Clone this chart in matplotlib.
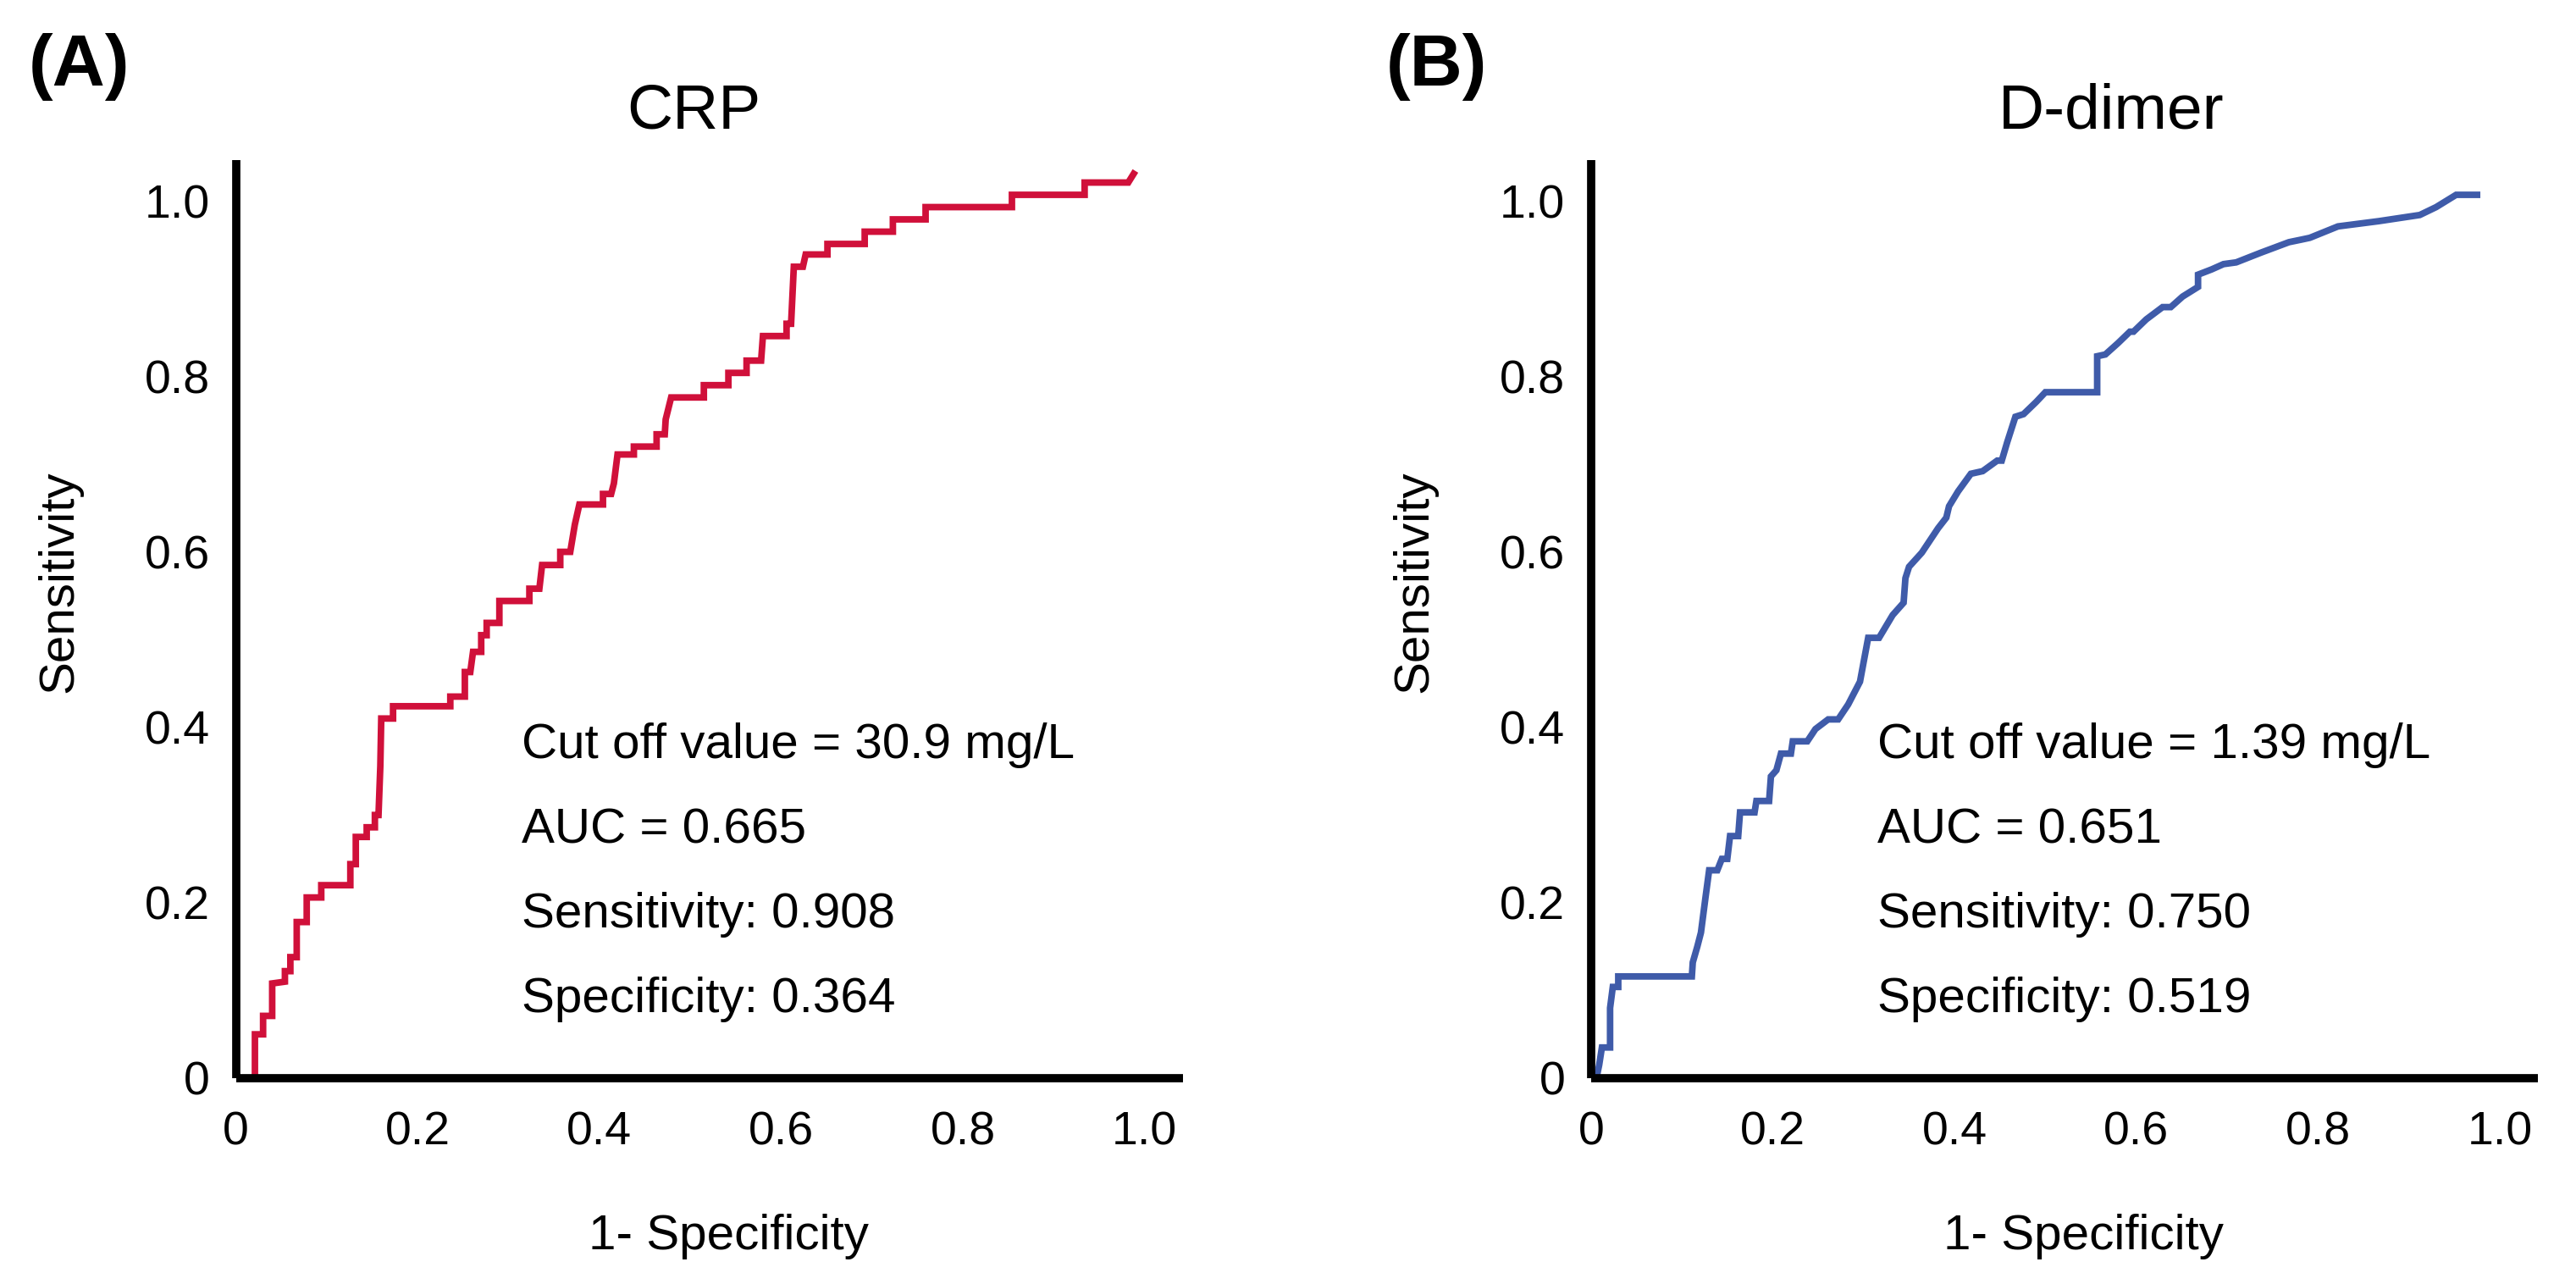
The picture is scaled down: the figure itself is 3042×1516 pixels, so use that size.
import matplotlib
matplotlib.use("Agg")
import matplotlib.pyplot as plt

plt.rcParams['font.family'] = ['Liberation Sans', 'DejaVu Sans']

# ROC curve for CRP (1 - specificity, sensitivity)
crp_fpr = [0.021, 0.021, 0.030, 0.030, 0.040, 0.040, 0.054, 0.054, 0.060, 0.060,
           0.067, 0.067, 0.078, 0.078, 0.094, 0.094, 0.126, 0.126, 0.132, 0.132,
           0.144, 0.144, 0.153, 0.153, 0.157, 0.159, 0.160, 0.173, 0.173, 0.236,
           0.236, 0.252, 0.252, 0.258, 0.261, 0.270, 0.270, 0.276, 0.276, 0.290,
           0.290, 0.323, 0.323, 0.334, 0.337, 0.357, 0.357, 0.368, 0.373, 0.378,
           0.404, 0.404, 0.413, 0.416, 0.420, 0.438, 0.438, 0.463, 0.463, 0.472,
           0.473, 0.479, 0.515, 0.515, 0.542, 0.542, 0.562, 0.562, 0.578, 0.580,
           0.606, 0.606, 0.611, 0.614, 0.624, 0.627, 0.651, 0.651, 0.692, 0.692,
           0.723, 0.723, 0.759, 0.759, 0.854, 0.854, 0.934, 0.934, 0.982, 0.988]
crp_tpr = [0.000, 0.050, 0.050, 0.071, 0.071, 0.108, 0.110, 0.122, 0.122, 0.138,
           0.138, 0.178, 0.178, 0.206, 0.206, 0.220, 0.220, 0.244, 0.244, 0.275,
           0.275, 0.286, 0.286, 0.300, 0.300, 0.356, 0.410, 0.410, 0.424, 0.424,
           0.435, 0.435, 0.463, 0.463, 0.486, 0.486, 0.505, 0.505, 0.519, 0.519,
           0.544, 0.544, 0.558, 0.558, 0.585, 0.585, 0.600, 0.600, 0.631, 0.654,
           0.654, 0.666, 0.666, 0.678, 0.711, 0.711, 0.720, 0.720, 0.734, 0.734,
           0.751, 0.776, 0.776, 0.790, 0.790, 0.804, 0.804, 0.818, 0.818, 0.846,
           0.846, 0.860, 0.860, 0.925, 0.925, 0.939, 0.939, 0.951, 0.951, 0.965,
           0.965, 0.979, 0.979, 0.993, 0.993, 1.007, 1.007, 1.021, 1.021, 1.031]

# ROC curve for D-dimer
dd_fpr = [0.006, 0.009, 0.012, 0.021, 0.021, 0.024, 0.030, 0.030, 0.111, 0.112,
          0.117, 0.121, 0.126, 0.130, 0.139, 0.144, 0.150, 0.153, 0.162, 0.164,
          0.180, 0.182, 0.196, 0.198, 0.204, 0.209, 0.220, 0.222, 0.238, 0.247,
          0.261, 0.272, 0.283, 0.296, 0.305, 0.317, 0.332, 0.344, 0.346, 0.350,
          0.364, 0.382, 0.391, 0.394, 0.404, 0.418, 0.431, 0.447, 0.452, 0.458,
          0.467, 0.476, 0.490, 0.500, 0.557, 0.557, 0.566, 0.580, 0.593, 0.597,
          0.611, 0.629, 0.638, 0.651, 0.668, 0.668, 0.683, 0.696, 0.710, 0.737,
          0.768, 0.782, 0.791, 0.822, 0.867, 0.912, 0.930, 0.952, 0.975]
dd_tpr = [0.000, 0.015, 0.035, 0.035, 0.080, 0.104, 0.104, 0.116, 0.116, 0.132,
          0.150, 0.166, 0.206, 0.237, 0.237, 0.250, 0.250, 0.276, 0.276, 0.303,
          0.303, 0.316, 0.316, 0.344, 0.351, 0.370, 0.370, 0.384, 0.384, 0.398,
          0.409, 0.409, 0.426, 0.452, 0.502, 0.502, 0.528, 0.542, 0.570, 0.583,
          0.599, 0.627, 0.639, 0.652, 0.669, 0.689, 0.692, 0.704, 0.704, 0.725,
          0.754, 0.757, 0.771, 0.782, 0.782, 0.823, 0.825, 0.838, 0.851, 0.851,
          0.865, 0.879, 0.879, 0.891, 0.902, 0.916, 0.922, 0.928, 0.930, 0.941,
          0.953, 0.956, 0.958, 0.971, 0.977, 0.984, 0.993, 1.007, 1.007]

ticks = [0, 0.2, 0.4, 0.6, 0.8, 1.0]
tick_labels = ['0', '0.2', '0.4', '0.6', '0.8', '1.0']

crp_stats = ['Cut off value = 30.9 mg/L', 'AUC = 0.665',
             'Sensitivity: 0.908', 'Specificity: 0.364']
dd_stats = ['Cut off value = 1.39 mg/L', 'AUC = 0.651',
            'Sensitivity: 0.750', 'Specificity: 0.519']

W, H = 3042, 1516
fig = plt.figure(figsize=(W / 200, H / 200), dpi=200)


def roc_panel(left, fpr, tpr, color, title, letter, stats, title_x, letter_x):
    ax = fig.add_axes([left, 0.1603, 0.3676, 0.7153])
    ax.plot(fpr, tpr, color=color, lw=2.8, solid_joinstyle='miter')
    ax.set_xlim(0.0, 1.042)
    ax.set_ylim(0.0, 1.047)
    for s in ['top', 'right']:
        ax.spines[s].set_visible(False)
    for s in ['left', 'bottom']:
        ax.spines[s].set_linewidth(3.5)
        ax.spines[s].set_capstyle('butt')
    ax.set_xticks(ticks)
    ax.set_xticklabels(tick_labels)
    ax.set_yticks(ticks)
    ax.set_yticklabels(tick_labels)
    ax.tick_params(axis='x', length=0, pad=14, labelsize=20)
    ax.tick_params(axis='y', length=0, pad=11, labelsize=20)

    for i, line in enumerate(stats):
        ax.text(0.302, 0.362 - i * 0.092, line, transform=ax.transAxes,
                fontsize=21, ha='left', va='center')

    fig.text(title_x, 1 - 132 / H, title, fontsize=27, ha='center', va='center')
    fig.text(letter_x, 1 - 79 / H, letter, fontsize=31, fontweight='bold',
             ha='left', va='center')
    ax_left_px = left * W
    fig.text((ax_left_px - 208) / W, 1 - 687 / H, 'Sensitivity', fontsize=21,
             rotation=90, ha='center', va='center')
    fig.text((ax_left_px + 582) / W, 1 - 1460 / H, '1- Specificity', fontsize=21,
             ha='center', va='center')
    return ax


roc_panel(278.5 / W, crp_fpr, crp_tpr, '#D0103A', 'CRP', '(A)', crp_stats,
          819 / W, 34 / W)
roc_panel(1878.8 / W, dd_fpr, dd_tpr, '#3F5BA9', 'D-dimer', '(B)', dd_stats,
          2493 / W, 1637 / W)

fig.savefig('out.png', dpi=200, facecolor='white')
